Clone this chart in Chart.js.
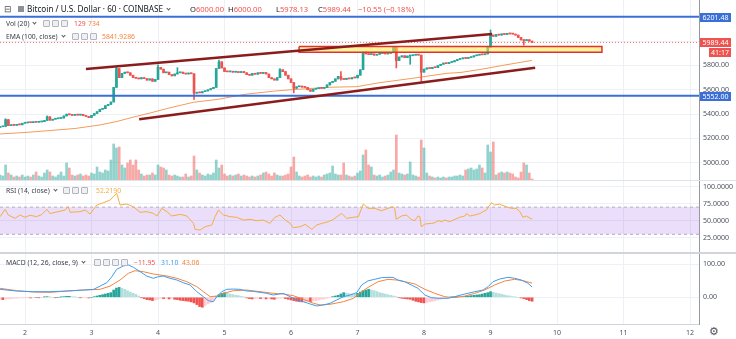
<!DOCTYPE html>
<html>
<head>
<meta charset="utf-8">
<title>Bitcoin / U.S. Dollar, 60, COINBASE</title>
<script src="https://cdn.jsdelivr.net/npm/chart.js@4.4.1/dist/chart.umd.min.js"></script>
<style>
  html, body { margin: 0; padding: 0; background: #ffffff; }
  body { position: relative; width: 736px; height: 339px; overflow: hidden; font-family: "Noto Sans", sans-serif; }
  canvas { position: absolute; left: 0; }
  #mainChart { top: 0; }
  #rsiChart { top: 181px; }
  #macdChart { top: 254px; }
  .sep { position: absolute; left: 0; width: 736px; }
  .lg { position: absolute; white-space: nowrap; font-size: 6.8px; line-height: 9px; color: #3a3e48; }
  .title { font-size: 8.2px; line-height: 10px; color: #131722; }
  .ohlc { font-size: 7.6px; }
  .dn { color: #ef5350; }
  .ic { position: absolute; width: 5px; height: 5px; border: 1px solid #b2b5be; border-radius: 1px; background: #eef0f3; }
  .chev { display: inline-block; width: 2px; height: 2px; border-right: 1px solid #555; border-bottom: 1px solid #555; transform: rotate(45deg); margin: 0 0 2px 4px; }
</style>
</head>
<body>
<canvas id="mainChart" width="736" height="180"></canvas>
<canvas id="rsiChart" width="736" height="71"></canvas>
<canvas id="macdChart" width="736" height="85"></canvas>
<div class="sep" style="top:180px;height:1px;background:#e0e3eb"></div>
<div class="sep" style="top:252px;height:2px;background:#d1d4dc"></div>

<!-- legend: symbol line -->
<div class="lg" style="left:4px;top:3px;font-size:9px;line-height:11px;color:#50535e">⊟</div>
<div style="position:absolute;left:18px;top:6px;width:6px;height:6px;background:#8a8f98"></div>
<div class="lg title" style="left:27px;top:4px">Bitcoin / U.S. Dollar · 60 · COINBASE<i class="chev"></i></div>
<div class="lg title ohlc" style="left:190px;top:4px">O<span class="dn">6000.00</span></div>
<div class="lg title ohlc" style="left:228px;top:4px">H<span class="dn">6000.00</span></div>
<div class="lg title ohlc" style="left:276px;top:4px">L<span class="dn">5978.13</span></div>
<div class="lg title ohlc" style="left:318px;top:4px">C<span class="dn">5989.44</span></div>
<div class="lg title ohlc dn" style="left:358px;top:4px">−10.55 (−0.18%)</div>

<!-- legend: volume and EMA -->
<div class="lg" style="left:6px;top:19px">Vol (20)<i class="chev"></i></div>
<div class="ic" style="left:43px;top:20px"></div><div class="ic" style="left:52px;top:20px"></div><div class="ic" style="left:61px;top:20px"></div>
<div class="lg" style="left:74px;top:19px;color:#ef5350">129</div>
<div class="lg" style="left:88px;top:19px;color:#f4843f">734</div>

<div class="lg" style="left:6px;top:31.5px">EMA (100, close)<i class="chev"></i></div>
<div class="ic" style="left:72px;top:33px"></div><div class="ic" style="left:81px;top:33px"></div><div class="ic" style="left:90px;top:33px"></div>
<div class="lg" style="left:102px;top:31.5px;color:#f4843f">5841.9286</div>

<!-- legend: RSI -->
<div class="lg" style="left:6px;top:185.5px">RSI (14, close)<i class="chev"></i></div>
<div class="ic" style="left:63px;top:187px"></div><div class="ic" style="left:72px;top:187px"></div><div class="ic" style="left:81px;top:187px"></div>
<div class="lg" style="left:96px;top:185.5px;color:#f5ad3f">52.2190</div>

<!-- legend: MACD -->
<div class="lg" style="left:6px;top:258px">MACD (12, 26, close, 9)<i class="chev"></i></div>
<div class="ic" style="left:94px;top:259px"></div><div class="ic" style="left:103px;top:259px"></div><div class="ic" style="left:112px;top:259px"></div><div class="ic" style="left:121px;top:259px"></div>
<div class="lg" style="left:134px;top:258px;color:#ef5350">−11.95</div>
<div class="lg" style="left:161px;top:258px;color:#3d9cf0">31.10</div>
<div class="lg" style="left:182px;top:258px;color:#f4843f">43.06</div>

<div class="lg" style="left:709px;top:325px;font-size:11px;line-height:12px;color:#50535e">⚙</div>

<script>
// Hourly candles, index 0 = day 1 15:00, last = day 9 15:00 (current bar)
const firstOpen = 5290;
const closes = [
  5296, 5300, 5355, 5305, 5312, 5308, 5315, 5312, 5325,
  5328, 5332, 5330, 5335, 5333, 5336, 5338, 5348, 5378, 5350, 5358, 5362, 5365, 5368, 5385, 5400, 5395, 5390, 5396, 5392, 5398, 5388, 5380, 5372,
  5390, 5405, 5420, 5440, 5445, 5470, 5480, 5500, 5620, 5775, 5700, 5735, 5745, 5740, 5720, 5700, 5695, 5690, 5700, 5692, 5680, 5690, 5670, 5685,
  5785, 5770, 5740, 5745, 5725, 5715, 5730, 5740, 5745, 5735, 5730, 5738, 5732, 5572, 5580, 5575, 5585, 5590, 5600, 5610, 5620, 5775, 5830, 5780,
  5750, 5748, 5752, 5745, 5748, 5742, 5750, 5740, 5725, 5720, 5735, 5728, 5740, 5735, 5742, 5730, 5700, 5690, 5680, 5700, 5765, 5750, 5720, 5690,
  5660, 5612, 5625, 5630, 5622, 5620, 5600, 5588, 5605, 5610, 5615, 5612, 5620, 5640, 5660, 5670, 5690, 5710, 5690, 5685, 5695, 5690, 5700, 5698,
  5720, 5765, 5910, 5895, 5890, 5895, 5885, 5892, 5898, 5905, 5895, 5900, 5905, 5950, 5840, 5870, 5880, 5865, 5878, 5880, 5885, 5888, 5885, 5745,
  5770, 5780, 5775, 5785, 5782, 5800, 5810, 5820, 5815, 5825, 5830, 5840, 5850, 5855, 5862, 5858, 5865, 5870, 5880, 5885, 5890, 5888, 5895, 5950,
  6050, 6040, 6055, 6050, 6060, 6055, 6065, 6060, 6058, 6050, 6030, 6010, 6005, 6012, 6000, 5989.44
];

// Candles with a visible wick beyond the body
const wickIndex = [2, 17, 42, 57, 64, 70, 79, 101, 106, 123, 143, 148, 152, 177, 189];
const wickLow   = [5296, 5348, 5620, 5685, 5730, 5520, 5775, 5700, 5575, 5680, 5780, 5810, 5668, 5950, 5968];
const wickHigh  = [5362, 5385, 5790, 5805, 5782, 5732, 5845, 5775, 5660, 5750, 5955, 5885, 5885, 6092, 6012];

const volumes = [
  650, 520, 1950, 910, 650, 390, 520, 390, 650,
  390, 520, 390, 650, 1040, 520, 390, 910, 1300, 1040, 520, 390, 650, 1040, 520, 2210, 1560, 650, 520, 650, 780, 520, 650, 520,
  910, 780, 1690, 1040, 910, 1300, 1170, 2600, 4680, 4160, 4290, 1950, 1560, 2210, 2600, 1950, 2600, 1300, 780, 520, 650, 650, 910, 650,
  1950, 1690, 1560, 1300, 650, 520, 650, 520, 390, 390, 780, 390, 520, 3120, 1300, 910, 650, 520, 780, 650, 910, 2600, 1560, 1950,
  780, 520, 650, 520, 650, 780, 520, 650, 520, 390, 520, 390, 520, 650, 910, 1040, 780, 520, 910, 650, 520, 520, 650, 780,
  1690, 2990, 1040, 520, 390, 520, 650, 390, 520, 390, 520, 390, 650, 780, 910, 1820, 780, 650, 650, 2210, 650, 520, 390, 520,
  910, 1170, 3250, 3900, 1950, 1690, 650, 520, 650, 390, 520, 650, 1040, 1300, 5850, 910, 780, 650, 780, 2340, 650, 520, 390, 5200,
  4160, 910, 520, 390, 260, 390, 260, 390, 260, 390, 390, 520, 520, 650, 520, 1300, 1430, 1560, 1300, 1430, 1950, 1560, 910, 4550,
  3640, 4940, 650, 910, 1040, 910, 1040, 910, 780, 390, 260, 1040, 2210, 1950, 910, 129
];

// EMA(100) read at chosen hours
const emaHours  = [0, 9, 18, 27.1, 36.1, 42.2, 48.7, 54.1, 60.6, 69.7, 78.7, 88.4, 99.2, 107.2, 119.1, 128.8, 137.1, 149.0, 161.3, 166.0, 173.2, 182.2, 192];
const emaValues = [5237, 5249, 5265, 5282, 5311, 5340, 5379, 5409, 5448, 5497, 5522, 5563, 5590, 5604, 5621, 5626, 5659, 5695, 5736, 5742, 5767, 5804, 5841.93];

// Drawings (hour, price)
const channelUpper = [[31.0, 5771], [177.6, 6059]];
const channelLower = [[50.2, 5357.6], [193.1, 5782]];
const zoneHours  = [107.9, 217.2];
const zonePrices = [5908.5, 5956];
const levelPrices = [6201.48, 5552];
const lastPrice = 5989.44;
const countdown = '41:17';

// RSI(14)
const rsiHours = [
  0, 1.8, 3.0, 5.4, 7.2, 9.0, 10.8, 13.2, 15.0, 16.9, 18.0, 21.0, 23.5, 24.6, 25.3, 28.9, 30.7, 32.5, 34.9, 37.3,
  39.7, 42.1, 43.3, 45.7, 48.1, 50.5, 52.9, 55.3, 56.6, 58.4, 60.2, 62.0, 65.0, 67.4, 69.8, 70.4, 72.2, 74.0, 76.4, 77.6,
  78.8, 80.6, 83.0, 85.4, 87.8, 90.2, 92.6, 95.0, 97.4, 99.2, 101.0, 102.9, 104.7, 105.8, 108.3, 110.1, 112.5, 114.3, 116.1, 118.5,
  120.3, 123.3, 125.1, 127.5, 129.3, 131.1, 132.8, 135.2, 137.6, 140.0, 141.8, 142.4, 143.0, 144.8, 146.6, 148.4, 149.7, 150.8, 151.5, 152.0,
  153.3, 155.6, 156.9, 158.1, 159.3, 160.5, 162.3, 164.1, 165.9, 167.7, 168.3, 169.5, 171.3, 173.1, 174.3, 175.5, 177.3, 178.5, 180.3, 180.9,
  182.7, 184.5, 186.3, 187.6, 188.7, 189.9, 192
];
const rsiValues = [
  55.9, 66.7, 58.4, 53.5, 58.4, 55, 58, 56, 59, 66.7, 60.5, 63.3, 65.7, 70.6, 62.4, 63.3, 65.7, 59.9, 73.1, 76.5,
  80.4, 90.3, 73.1, 74.6, 70.6, 62.4, 63.3, 60.9, 56.9, 68.2, 63.3, 56.9, 59.4, 56.9, 46.1, 37.3, 36.3, 41.2, 43.7, 55.9,
  65.7, 58.4, 56, 55, 51, 52, 50, 51, 46.1, 55, 58.4, 51, 46.1, 39.7, 41.2, 44.6, 37.3, 43.7, 46.1, 48.5,
  52, 60.9, 53.5, 55, 56, 74.6, 68.2, 68.2, 64.7, 68.2, 70.6, 68.2, 52, 56.9, 58.4, 52, 50, 56.9, 56, 41.2,
  45.1, 46.1, 47, 50, 48.5, 51, 48.5, 52, 55, 56.9, 60.5, 56.9, 58.4, 60.5, 63.3, 65.7, 76.5, 73.1, 74.6, 73.1,
  70.6, 68.2, 68.2, 63.3, 55, 56.9, 52.219
];
const rsiBand = [30, 70];

// MACD(12, 26, 9)
const macdHours = [
  0, 6.0, 12.0, 18.0, 24.1, 30.1, 33.7, 36.1, 38.5, 40.3, 42.1, 44.5, 46.3, 48.1, 50.5, 52.9, 55.3, 57.1, 58.9, 61.3,
  63.8, 66.1, 68.6, 71.0, 73.4, 75.2, 77.0, 78.2, 80.0, 81.8, 84.2, 86.6, 89.0, 91.4, 96.2, 98.6, 102.2, 104.7, 107.1, 109.5,
  111.9, 114.3, 116.7, 119.1, 121.5, 123.9, 126.3, 128.7, 130.5, 132.8, 135.2, 137.6, 140.0, 141.8, 143.6, 146.0, 148.4, 150.8, 153.3, 155.6,
  158.1, 161.7, 164.1, 167.7, 171.3, 174.3, 176.1, 177.9, 180.3, 183.3, 185.7, 188.1, 190.5, 192
];
const macdValues = [
  24.2, 19, 17, 17, 19, 22, 24, 34, 44, 62, 85, 95, 98, 91, 78, 64.5, 57.6, 62.4, 64.5, 57.6,
  52.4, 44.2, 37.3, 17, 1.8, -10.3, -13.3, 1.8, 17, 24.2, 25, 24.2, 19, 18, 12, 7, 12, 1.8, -8.1, -13.3,
  -20.2, -26.3, -23.2, -18.2, -8.1, 1.8, 7, 14, 37.3, 50, 54.5, 59.4, 60.4, 60.4, 52.4, 47.3, 37.3, 27.2, 7, -1,
  -3, -3, 2, 10, 17, 22.1, 32, 47.3, 55.4, 60.6, 57.6, 52.4, 42.4, 31.1
];
const signalHours = [
  0, 6.0, 12.0, 18.0, 24.1, 30.1, 36.1, 39.7, 43.3, 46.3, 48.7, 51.7, 55.3, 60.2, 63.8, 67.4, 71.0, 73.4, 75.8, 78.2,
  80.6, 84.2, 89.0, 93.8, 98.6, 102.2, 105.8, 109.5, 113.1, 115.5, 119.1, 123.9, 127.5, 130.5, 132.8, 136.4, 140.0, 143.0, 146.0, 149.7,
  153.3, 156.9, 160.5, 164.1, 167.7, 171.3, 174.9, 178.5, 182.1, 185.7, 188.7, 192
];
const signalValues = [
  27.2, 20, 16, 15, 19, 22, 24.2, 34, 52.4, 72.7, 80.6, 77.6, 70.6, 64.5, 57.6, 47.3, 32.1, 17, 1.8, 3.8,
  12, 20, 22, 17, 12, 10, 5, -6.1, -18.2, -23.2, -21.2, -13.3, -3.2, 17, 30, 47.3, 54.5, 52.4, 47.3, 40.4,
  24.2, 12, 1.8, -1, 3.8, 12, 22.1, 37.3, 49.3, 54.5, 50.4, 43.06
];
const histogram = [
  -6, -7, -5, -5, -4, -3, -3, -2, -2,
  -1, -1, -2, -1, 0, -1, -1, 1, 2, 1, 0, -1, 0, 1, 2, 3, 3, 2, 1, 0, -1, -1, -1, -2,
  0, 2, 4, 6, 8, 10, 12, 14, 22, 28, 30, 27, 24, 20, 16, 12, 9, 4, -1, -4, -7, -8, -10, -8,
  -6, -3, -4, -3, -5, -3, -6, -7, -9, -10, -11, -12, -14, -17, -22, -28, -30, -25, -20, -16, -10, 2, 8, 12,
  14, 12, 10, 8, 6, 5, 3, 1, -2, -4, -5, -4, -3, -4, -3, -5, -4, -5, -6, -4, -3, -2, -4, -6,
  -8, -10, -12, -13, -14, -14, -12, -13, -11, -10, -8, -6, -5, -3, -1, 2, 4, 6, 10, 14, 13, 11, 10, 9,
  12, 16, 20, 22, 24, 22, 20, 17, 14, 12, 10, 8, 6, 4, 2, -1, -3, -4, -5, -6, -9, -12, -14, -16,
  -17, -16, -14, -12, -10, -8, -6, -4, -2, -1, 1, 1, 2, 1, 2, 3, 4, 5, 6, 7, 8, 10, 12, 14,
  17, 15, 13, 11, 9, 7, 5, 4, 2, 1, 0, -2, -4, -7, -10, -11.95
];

// Time axis: day labels and their hour positions
const dayLabels = ['2', '3', '4', '5', '6', '7', '8', '9', '10', '11', '12'];
const dayHours  = [9, 33, 57, 81, 105, 129, 153, 177, 201, 225, 249];

const X_MIN = -0.025, X_MAX = 252.23;
const UP = '#26a69a', DOWN = '#ef5350';
const GRID = '#edf0f4', TEXT = '#4c525e';

Chart.defaults.font.family = '"Noto Sans", sans-serif';
Chart.defaults.font.size = 7;
Chart.defaults.animation = false;

function points(xs, ys) {
  return xs.map((x, k) => ({ x: x, y: ys[k] }));
}

function timeAxis(showLabels) {
  return {
    type: 'linear', min: X_MIN, max: X_MAX, offset: false,
    afterBuildTicks: s => { s.ticks = dayHours.map(v => ({ value: v })); },
    grid: { color: GRID, drawTicks: false, offset: false },
    border: { display: showLabels, color: '#d1d4dc' },
    ticks: { display: showLabels, autoSkip: false, maxRotation: 0, padding: 5, color: TEXT,
             callback: (v, i) => dayLabels[i] },
    afterFit: s => { s.height = showLabels ? 15 : 0; s.paddingLeft = 0; s.paddingRight = 0; }
  };
}

function valueAxis(min, max, step, digits, hidden) {
  return {
    position: 'right', min: min, max: max,
    grid: { color: GRID, drawTicks: false },
    border: { color: '#9598a1' },
    ticks: { stepSize: step, includeBounds: false, padding: 4, color: TEXT,
             callback: v => hidden.includes(v) ? '' : v.toFixed(digits) },
    afterFit: s => { s.width = 37; s.paddingTop = 0; s.paddingBottom = 0; }
  };
}

const baseOptions = {
  responsive: false,
  layout: { padding: 0 },
  plugins: { legend: { display: false }, tooltip: { enabled: false } },
  elements: { point: { radius: 0 }, line: { tension: 0 } }
};

// Build candle pieces
const opens = closes.map((c, i) => i === 0 ? firstOpen : closes[i - 1]);
const candleColors = closes.map((c, i) => c >= opens[i] ? UP : DOWN);
const volumeColors = closes.map((c, i) => c >= opens[i] ? 'rgba(38,166,154,0.5)' : 'rgba(239,83,80,0.5)');
const wicks = closes.map((c, i) => {
  let lo = Math.min(c, opens[i]), hi = Math.max(c, opens[i]);
  const k = wickIndex.indexOf(i);
  if (k >= 0) { lo = Math.min(lo, wickLow[k]); hi = Math.max(hi, wickHigh[k]); }
  return { x: i, y: [lo, hi] };
});

// Price tags drawn over the right axis
const priceTags = {
  id: 'priceTags',
  afterDraw(chart) {
    const y = chart.scales.y, ctx = chart.ctx, left = chart.chartArea.right + 1;
    ctx.save();
    ctx.font = '7px "Noto Sans"';
    ctx.textAlign = 'center';
    ctx.textBaseline = 'middle';
    const tags = [[levelPrices[0], '#3b6fd8'], [levelPrices[1], '#3b6fd8'], [lastPrice, DOWN]];
    tags.forEach(([v, col]) => {
      const py = Math.round(y.getPixelForValue(v));
      ctx.fillStyle = col;
      ctx.fillRect(left, py - 4, 31, 9);
      ctx.fillStyle = '#fff';
      ctx.fillText(v.toFixed(2), left + 15.5, py + 0.5);
    });
    const py = Math.round(y.getPixelForValue(lastPrice));
    ctx.fillStyle = DOWN;
    ctx.fillRect(left + 9, py + 6, 22, 9);
    ctx.fillStyle = '#fff';
    ctx.fillText(countdown, left + 20, py + 11);
    ctx.restore();
  }
};

// Main pane: candles, volume, EMA and drawings
new Chart(document.getElementById('mainChart'), {
  type: 'bar',
  data: {
    datasets: [
      { type: 'line', data: points(channelUpper.map(p => p[0]), channelUpper.map(p => p[1])),
        borderColor: '#8b1c1c', borderWidth: 2.5, order: 0 },
      { type: 'line', data: points(channelLower.map(p => p[0]), channelLower.map(p => p[1])),
        borderColor: '#8b1c1c', borderWidth: 2.5, order: 0 },
      { type: 'line',
        data: points([zoneHours[0], zoneHours[1], zoneHours[1], zoneHours[0], zoneHours[0]],
                     [zonePrices[1], zonePrices[1], zonePrices[0], zonePrices[0], zonePrices[1]]),
        borderColor: '#e0312f', borderWidth: 1.5, backgroundColor: 'rgba(255,235,59,0.5)', fill: 'shape', order: 1 },
      { type: 'line', data: points([X_MIN, X_MAX], [levelPrices[0], levelPrices[0]]), borderColor: '#3b6fd8', borderWidth: 2, order: 2 },
      { type: 'line', data: points([X_MIN, X_MAX], [levelPrices[1], levelPrices[1]]), borderColor: '#3b6fd8', borderWidth: 2, order: 2 },
      { type: 'line', data: points([X_MIN, X_MAX], [lastPrice, lastPrice]), borderColor: 'rgba(239,83,80,0.8)',
        borderWidth: 1, borderDash: [1, 2], order: 2 },
      { data: closes.map((c, i) => ({ x: i, y: [opens[i], c] })), backgroundColor: candleColors,
        barThickness: 2, minBarLength: 1, grouped: false, order: 3 },
      { data: wicks, backgroundColor: candleColors, barThickness: 1, grouped: false, order: 4 },
      { type: 'line', data: points(emaHours, emaValues), borderColor: '#f59b5a', borderWidth: 1, order: 5 },
      { data: volumes.map((v, i) => ({ x: i, y: v })), yAxisID: 'yVol', backgroundColor: volumeColors,
        barThickness: 2, grouped: false, order: 6 }
    ]
  },
  options: Object.assign({}, baseOptions, {
    scales: {
      x: timeAxis(false),
      y: valueAxis(4858.3, 6338.6, 200, 2, [6000, 6200]),
      yVol: { display: false, min: 0, max: 23400 }
    }
  }),
  plugins: [priceTags]
});

// RSI pane
new Chart(document.getElementById('rsiChart'), {
  type: 'line',
  data: {
    datasets: [
      { data: points(rsiHours, rsiValues), borderColor: '#f5ad3f', borderWidth: 1, order: 0 },
      { data: points([X_MIN, X_MAX], [rsiBand[1], rsiBand[1]]), borderColor: '#b4b0bf', borderWidth: 1,
        borderDash: [3, 3], fill: '+1', backgroundColor: 'rgba(150,90,230,0.2)', order: 1 },
      { data: points([X_MIN, X_MAX], [rsiBand[0], rsiBand[0]]), borderColor: '#b4b0bf', borderWidth: 1,
        borderDash: [3, 3], order: 1 }
    ]
  },
  options: Object.assign({}, baseOptions, {
    scales: { x: timeAxis(false), y: valueAxis(4, 108.4, 25, 4, []) }
  })
});

// MACD pane
const histColors = histogram.map((h, i) => {
  const prev = i === 0 ? h : histogram[i - 1];
  if (h >= 0) return h >= prev ? '#26a69a' : '#b2dfdb';
  return h < prev ? '#ef5350' : '#ffcdd2';
});

new Chart(document.getElementById('macdChart'), {
  type: 'bar',
  data: {
    datasets: [
      { type: 'line', data: points(macdHours, macdValues), borderColor: '#3d9cf0', borderWidth: 1, order: 0 },
      { type: 'line', data: points(signalHours, signalValues), borderColor: '#f4843f', borderWidth: 1, order: 1 },
      { data: histogram.map((h, i) => ({ x: i, y: h })), backgroundColor: histColors,
        barThickness: 2, grouped: false, order: 2 }
    ]
  },
  options: Object.assign({}, baseOptions, {
    scales: { x: timeAxis(true), y: valueAxis(-80.9, 131.2, 100, 2, []) }
  })
});
</script>
</body>
</html>
